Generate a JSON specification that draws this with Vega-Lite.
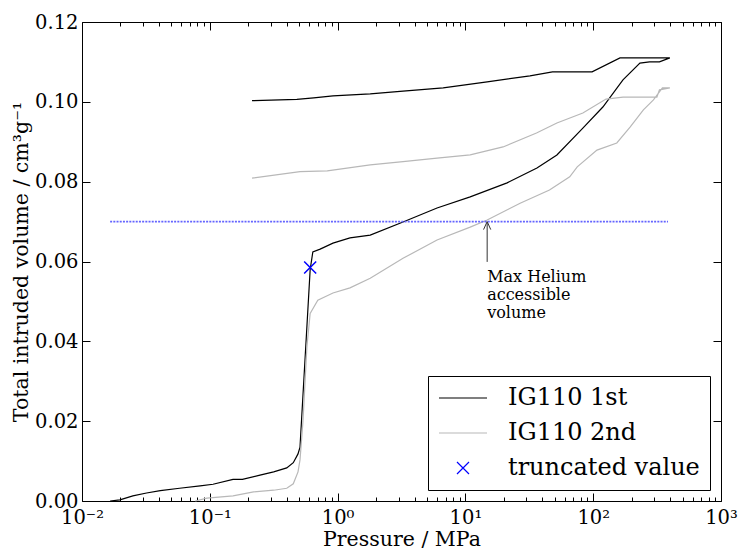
{
  "$schema": "https://vega.github.io/schema/vega-lite/v6.json",
  "width": 639,
  "height": 479,
  "autosize": "none",
  "padding": {"left": 82, "top": 22, "right": 19, "bottom": 49},
  "background": "white",
  "config": {
    "font": "DejaVu Serif",
    "view": {"stroke": "black", "strokeWidth": 1},
    "axis": {"domain": false, "grid": false, "tickColor": "black", "labelColor": "black", "titleColor": "black", "labelFont": "DejaVu Serif", "titleFont": "DejaVu Serif", "labelFontSize": 19.5, "titleFontSize": 20.5, "titleFontWeight": "normal", "labelFlush": false, "labelOverlap": false, "tickWidth": 1}
  },
  "datasets": {
    "curves": [
      {"s": "IG110 1st", "i": 1, "p": 0.0166, "v": 0.0},
      {"s": "IG110 1st", "i": 2, "p": 0.0198, "v": 0.0003},
      {"s": "IG110 1st", "i": 3, "p": 0.025, "v": 0.0013},
      {"s": "IG110 1st", "i": 4, "p": 0.032, "v": 0.002},
      {"s": "IG110 1st", "i": 5, "p": 0.041, "v": 0.0026},
      {"s": "IG110 1st", "i": 6, "p": 0.058, "v": 0.0032},
      {"s": "IG110 1st", "i": 7, "p": 0.084, "v": 0.0038},
      {"s": "IG110 1st", "i": 8, "p": 0.106, "v": 0.0042},
      {"s": "IG110 1st", "i": 9, "p": 0.152, "v": 0.0054},
      {"s": "IG110 1st", "i": 10, "p": 0.18, "v": 0.0054},
      {"s": "IG110 1st", "i": 11, "p": 0.247, "v": 0.0065},
      {"s": "IG110 1st", "i": 12, "p": 0.316, "v": 0.0073},
      {"s": "IG110 1st", "i": 13, "p": 0.40, "v": 0.0083},
      {"s": "IG110 1st", "i": 14, "p": 0.45, "v": 0.0096},
      {"s": "IG110 1st", "i": 15, "p": 0.49, "v": 0.0118},
      {"s": "IG110 1st", "i": 16, "p": 0.508, "v": 0.0135},
      {"s": "IG110 1st", "i": 17, "p": 0.61, "v": 0.058},
      {"s": "IG110 1st", "i": 18, "p": 0.64, "v": 0.0624},
      {"s": "IG110 1st", "i": 19, "p": 0.73, "v": 0.0631},
      {"s": "IG110 1st", "i": 20, "p": 0.92, "v": 0.0646},
      {"s": "IG110 1st", "i": 21, "p": 1.25, "v": 0.0659},
      {"s": "IG110 1st", "i": 22, "p": 1.8, "v": 0.0666},
      {"s": "IG110 1st", "i": 23, "p": 3.25, "v": 0.0699},
      {"s": "IG110 1st", "i": 24, "p": 6.0, "v": 0.0734},
      {"s": "IG110 1st", "i": 25, "p": 10.9, "v": 0.0762},
      {"s": "IG110 1st", "i": 26, "p": 21.2, "v": 0.0797},
      {"s": "IG110 1st", "i": 27, "p": 36.3, "v": 0.0834},
      {"s": "IG110 1st", "i": 28, "p": 52, "v": 0.0867},
      {"s": "IG110 1st", "i": 29, "p": 83, "v": 0.0934},
      {"s": "IG110 1st", "i": 30, "p": 119, "v": 0.0987},
      {"s": "IG110 1st", "i": 31, "p": 171, "v": 0.1055},
      {"s": "IG110 1st", "i": 32, "p": 232, "v": 0.1097},
      {"s": "IG110 1st", "i": 33, "p": 276, "v": 0.110},
      {"s": "IG110 1st", "i": 34, "p": 330, "v": 0.110},
      {"s": "IG110 1st", "i": 35, "p": 398, "v": 0.111},
      {"s": "IG110 1st", "i": 36, "p": 162, "v": 0.111},
      {"s": "IG110 1st", "i": 37, "p": 98, "v": 0.1075},
      {"s": "IG110 1st", "i": 38, "p": 48, "v": 0.1075},
      {"s": "IG110 1st", "i": 39, "p": 32, "v": 0.1065},
      {"s": "IG110 1st", "i": 40, "p": 14.8, "v": 0.105},
      {"s": "IG110 1st", "i": 41, "p": 6.7, "v": 0.1035},
      {"s": "IG110 1st", "i": 42, "p": 3.25, "v": 0.1027},
      {"s": "IG110 1st", "i": 43, "p": 1.8, "v": 0.102},
      {"s": "IG110 1st", "i": 44, "p": 0.92, "v": 0.1015},
      {"s": "IG110 1st", "i": 45, "p": 0.65, "v": 0.101},
      {"s": "IG110 1st", "i": 46, "p": 0.48, "v": 0.1006},
      {"s": "IG110 1st", "i": 47, "p": 0.214, "v": 0.1003},
      {"s": "IG110 2nd", "i": 1, "p": 0.077, "v": 0.0},
      {"s": "IG110 2nd", "i": 2, "p": 0.095, "v": 0.0007},
      {"s": "IG110 2nd", "i": 3, "p": 0.152, "v": 0.0013},
      {"s": "IG110 2nd", "i": 4, "p": 0.22, "v": 0.0023},
      {"s": "IG110 2nd", "i": 5, "p": 0.316, "v": 0.0027},
      {"s": "IG110 2nd", "i": 6, "p": 0.40, "v": 0.0032},
      {"s": "IG110 2nd", "i": 7, "p": 0.45, "v": 0.0043},
      {"s": "IG110 2nd", "i": 8, "p": 0.49, "v": 0.0073},
      {"s": "IG110 2nd", "i": 9, "p": 0.508, "v": 0.0103},
      {"s": "IG110 2nd", "i": 10, "p": 0.536, "v": 0.020},
      {"s": "IG110 2nd", "i": 11, "p": 0.575, "v": 0.0386},
      {"s": "IG110 2nd", "i": 12, "p": 0.61, "v": 0.047},
      {"s": "IG110 2nd", "i": 13, "p": 0.70, "v": 0.0503},
      {"s": "IG110 2nd", "i": 14, "p": 0.92, "v": 0.0521},
      {"s": "IG110 2nd", "i": 15, "p": 1.25, "v": 0.0534},
      {"s": "IG110 2nd", "i": 16, "p": 1.8, "v": 0.0558},
      {"s": "IG110 2nd", "i": 17, "p": 3.25, "v": 0.0608},
      {"s": "IG110 2nd", "i": 18, "p": 6.0, "v": 0.0654},
      {"s": "IG110 2nd", "i": 19, "p": 10.9, "v": 0.0686},
      {"s": "IG110 2nd", "i": 20, "p": 14.8, "v": 0.0704},
      {"s": "IG110 2nd", "i": 21, "p": 26.8, "v": 0.0746},
      {"s": "IG110 2nd", "i": 22, "p": 45.5, "v": 0.0779},
      {"s": "IG110 2nd", "i": 23, "p": 65.5, "v": 0.0812},
      {"s": "IG110 2nd", "i": 24, "p": 75, "v": 0.0837},
      {"s": "IG110 2nd", "i": 25, "p": 107, "v": 0.0879},
      {"s": "IG110 2nd", "i": 26, "p": 153, "v": 0.0897},
      {"s": "IG110 2nd", "i": 27, "p": 195, "v": 0.0937},
      {"s": "IG110 2nd", "i": 28, "p": 247, "v": 0.098},
      {"s": "IG110 2nd", "i": 29, "p": 296, "v": 0.1005},
      {"s": "IG110 2nd", "i": 30, "p": 348, "v": 0.1035},
      {"s": "IG110 2nd", "i": 31, "p": 398, "v": 0.1035},
      {"s": "IG110 2nd", "i": 32, "p": 330, "v": 0.103},
      {"s": "IG110 2nd", "i": 33, "p": 315, "v": 0.1012},
      {"s": "IG110 2nd", "i": 34, "p": 171, "v": 0.1012},
      {"s": "IG110 2nd", "i": 35, "p": 126, "v": 0.1007},
      {"s": "IG110 2nd", "i": 36, "p": 83, "v": 0.0972},
      {"s": "IG110 2nd", "i": 37, "p": 52, "v": 0.0947},
      {"s": "IG110 2nd", "i": 38, "p": 36, "v": 0.0922},
      {"s": "IG110 2nd", "i": 39, "p": 19.7, "v": 0.0887},
      {"s": "IG110 2nd", "i": 40, "p": 10.9, "v": 0.0867},
      {"s": "IG110 2nd", "i": 41, "p": 6.0, "v": 0.0859},
      {"s": "IG110 2nd", "i": 42, "p": 3.25, "v": 0.085},
      {"s": "IG110 2nd", "i": 43, "p": 1.8, "v": 0.0842},
      {"s": "IG110 2nd", "i": 44, "p": 0.83, "v": 0.0827},
      {"s": "IG110 2nd", "i": 45, "p": 0.508, "v": 0.0825},
      {"s": "IG110 2nd", "i": 46, "p": 0.214, "v": 0.0809}
    ],
    "truncated": [
      {"s": "truncated value", "p": 0.61, "v": 0.0585}
    ],
    "helium": [
      {"p_start": 0.0166, "p_end": 385, "v": 0.070}
    ]
  },
  "layer": [
    {
      "data": {"name": "curves"},
      "mark": {"type": "line", "strokeWidth": 1.2, "interpolate": "linear"},
      "encoding": {
        "x": {"field": "p", "type": "quantitative",
          "scale": {"type": "log", "domain": [0.01, 1000], "nice": false},
          "axis": {"orient": "bottom", "title": "Pressure / MPa", "values": [0.01, 0.1, 1, 10, 100, 1000], "tickSize": -8, "labelPadding": 15, "titlePadding": 3,
            "labelExpr": "'10' + ['⁻²','⁻¹','⁰','¹','²','³'][round(log(datum.value)/LN10)+2]"}},
        "y": {"field": "v", "type": "quantitative",
          "scale": {"domain": [0, 0.12], "nice": false, "zero": false},
          "axis": {"orient": "left", "title": "Total intruded volume / cm³g⁻¹", "values": [0, 0.02, 0.04, 0.06, 0.08, 0.1, 0.12], "format": ".2f", "tickSize": -8, "labelPadding": 12, "titlePadding": 3}},
        "color": {"field": "s", "type": "nominal",
          "scale": {"domain": ["IG110 1st", "IG110 2nd", "truncated value"], "range": ["#000000", "#b8b8b8", "#0000ff"]},
          "legend": {"title": null, "orient": "bottom-right", "offset": 11, "strokeColor": "black", "fillColor": "white", "padding": 10, "cornerRadius": 0,
            "labelFont": "DejaVu Serif", "labelFontSize": 24, "labelColor": "black", "labelLimit": 400, "symbolSize": 100, "symbolOffset": 13, "labelOffset": 33, "rowPadding": 11, "symbolStrokeWidth": 1.2,
            "encode": {"symbols": {"update": {
              "shape": {"signal": "datum.value === 'truncated value' ? 'M-1.2,-1.2L1.2,1.2M1.2,-1.2L-1.2,1.2' : 'M-4.8,0L4.8,0'"},
              "fill": {"value": "transparent"},
              "strokeWidth": {"value": 1.2}
            }}}}},
        "order": {"field": "i", "type": "quantitative"}
      }
    },
    {
      "data": {"name": "truncated"},
      "mark": {"type": "point", "shape": "M-1,-1L1,1M1,-1L-1,1", "filled": false, "size": 144, "strokeWidth": 1.5, "opacity": 1},
      "encoding": {
        "x": {"field": "p", "type": "quantitative", "axis": {"orient": "bottom", "title": null, "labels": false, "tickSize": -4,
          "values": [0.02,0.03,0.04,0.05,0.06,0.07,0.08,0.09,0.2,0.3,0.4,0.5,0.6,0.7,0.8,0.9,2,3,4,5,6,7,8,9,20,30,40,50,60,70,80,90,200,300,400,500,600,700,800,900]}},
        "y": {"field": "v", "type": "quantitative", "axis": {"orient": "right", "title": null, "labels": false, "tickSize": -8, "values": [0, 0.02, 0.04, 0.06, 0.08, 0.1, 0.12]}},
        "color": {"field": "s", "type": "nominal"}
      }
    },
    {
      "data": {"name": "helium"},
      "mark": {"type": "rule", "color": "#6464ff", "strokeWidth": 1.6, "strokeDash": [2, 1.2]},
      "encoding": {
        "x": {"field": "p_start", "type": "quantitative", "axis": {"orient": "top", "title": null, "labels": false, "tickSize": -8, "values": [0.01, 0.1, 1, 10, 100, 1000]}},
        "x2": {"field": "p_end"},
        "y": {"field": "v", "type": "quantitative", "axis": null}
      }
    },
    {
      "data": {"values": [{}]},
      "mark": {"type": "rule", "color": "#333333", "strokeWidth": 1},
      "encoding": {
        "x": {"datum": 14.8, "type": "quantitative", "axis": {"orient": "top", "title": null, "labels": false, "tickSize": -4,
          "values": [0.02,0.03,0.04,0.05,0.06,0.07,0.08,0.09,0.2,0.3,0.4,0.5,0.6,0.7,0.8,0.9,2,3,4,5,6,7,8,9,20,30,40,50,60,70,80,90,200,300,400,500,600,700,800,900]}},
        "y": {"datum": 0.0599, "type": "quantitative", "axis": null},
        "y2": {"datum": 0.0697}
      }
    },
    {
      "data": {"values": [{}]},
      "mark": {"type": "point", "shape": "M-0.9,2L0,0L0.9,2", "filled": false, "size": 64, "strokeWidth": 1, "color": "#333333", "opacity": 1},
      "encoding": {
        "x": {"datum": 14.8, "type": "quantitative", "axis": null},
        "y": {"datum": 0.0700, "type": "quantitative", "axis": null}
      }
    },
    {
      "data": {"values": [{}]},
      "mark": {"type": "text", "align": "left", "baseline": "top", "font": "DejaVu Serif", "fontSize": 16, "lineHeight": 18, "color": "black", "lineBreak": "\n"},
      "encoding": {
        "x": {"datum": 14.8, "type": "quantitative", "axis": null},
        "y": {"datum": 0.0582, "type": "quantitative", "axis": null},
        "text": {"value": "Max Helium\naccessible\nvolume"}
      }
    }
  ],
  "resolve": {"axis": {"x": "independent", "y": "independent"}}
}
